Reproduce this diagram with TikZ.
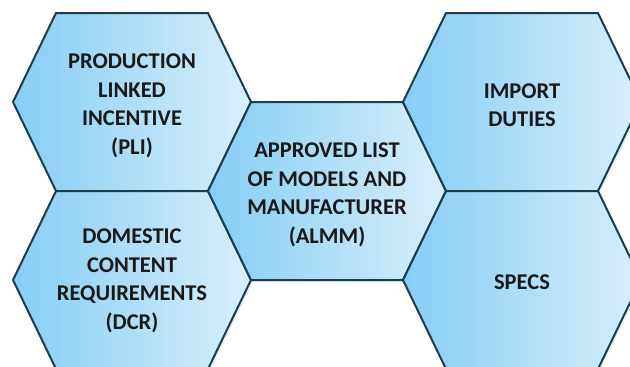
\documentclass[tikz,border=0pt]{standalone}
\usepackage{fontspec}
\setmainfont{Carlito}
\usetikzlibrary{shadows}

\definecolor{hexline}{HTML}{173F50}
\definecolor{hexleft}{HTML}{86CDF4}
\definecolor{hexright}{HTML}{D8EFFC}

\tikzstyle{hexagon}=[draw=hexline, line width=2pt, line join=miter, left color=hexleft, right color=hexright, drop shadow={opacity=0.15, shadow xshift=2pt, shadow yshift=-2pt}]
\tikzstyle{hextext}=[align=center, text=black!90, font=\fontsize{22.5}{28.5}\selectfont\bfseries]

\begin{document}
\begin{tikzpicture}[x=1pt, y=-1pt]
          \useasboundingbox (0,0) rectangle (630,367);

          \coordinate (c1) at (132,102);
          \coordinate (c2) at (132,280);
          \coordinate (c3) at (327,191);
          \coordinate (c4) at (522,102);
          \coordinate (c5) at (522,280);

          % five hexagons, flat top and bottom
          \foreach \c in {c1,c2,c3,c4,c5}
            \draw [hexagon] (\c) ++(-119,0) -- ++(43,-89) -- ++(152,0) -- ++(43,89) -- ++(-43,89) -- ++(-152,0) -- cycle;

          \node (pli) [hextext] at ([yshift=-4pt]c1) {PRODUCTION\\LINKED\\INCENTIVE\\(PLI)};
          \node (dcr) [hextext] at ([yshift=-1pt]c2) {DOMESTIC\\CONTENT\\REQUIREMENTS\\(DCR)};
          \node (almm) [hextext] at ([yshift=-4pt]c3) {APPROVED LIST\\OF MODELS AND\\MANUFACTURER\\(ALMM)};
          \node (duties) [hextext] at ([yshift=-3pt]c4) {IMPORT\\DUTIES};
          \node (specs) [hextext] at ([yshift=-2pt]c5) {SPECS};
    \end{tikzpicture}
\end{document}
